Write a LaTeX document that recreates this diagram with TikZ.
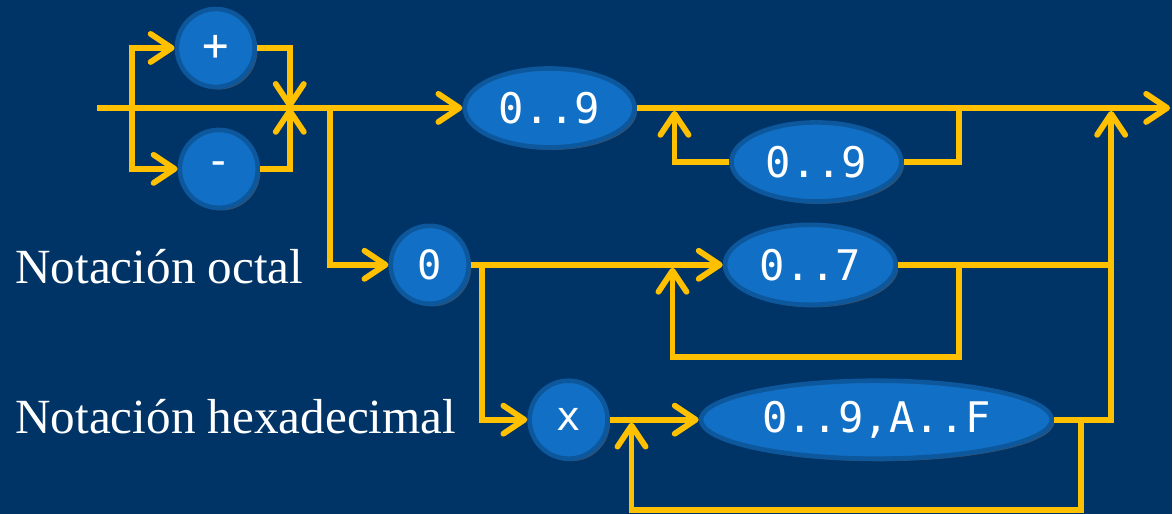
\documentclass[tikz,border=0pt]{standalone}
\usepackage{fontspec}
\setmainfont{Liberation Serif}
\setmonofont{DejaVu Sans Mono}
\usetikzlibrary{arrows.meta,shapes.geometric,shadows}
\definecolor{navy}{HTML}{003366}
\definecolor{rail}{HTML}{FFC000}
\definecolor{tokfill}{HTML}{1170C6}
\definecolor{tokedge}{HTML}{0D579C}

\begin{document}
\begin{tikzpicture}[>={Straight Barb[length=12pt,width=16pt,round]},
  flow/.style={draw=rail,line width=3.3pt},
  tok/.style={ellipse,fill=tokfill,draw=tokedge,line width=2.6pt,inner sep=0pt,text=white,
    font=\ttfamily\fontsize{24}{24}\selectfont,minimum width=3.4cm,minimum height=1.58cm,
    drop shadow={shadow xshift=1.5pt,shadow yshift=-1.5pt,opacity=0.4}},
  sgn/.style={tok,circle,minimum size=1.56cm,font=\ttfamily\fontsize{25}{25}\selectfont},
  lbl/.style={text=white,anchor=base west,inner sep=0pt,font=\fontsize{28}{30}\selectfont}]
  \fill[navy] (0,0) rectangle (23.46,-10.28);

  % tokens
  \node[sgn] (plus) at (4.32,-0.96) {+};
  \node[sgn] (minus) at (4.38,-3.38) {-};
  \node[sgn,font=\ttfamily\fontsize{23}{23}\selectfont] (oct0) at (8.6,-5.3) {0};
  \node[sgn,font=\ttfamily\fontsize{23}{23}\selectfont] (hx) at (11.38,-8.4) {x};
  \node[tok] (d9) at (11,-2.16) {0..9};
  \node[tok] (d9r) at (16.34,-3.24) {0..9};
  \node[tok,minimum width=3.42cm,minimum height=1.6cm] (o7) at (16.22,-5.3) {0..7};
  \node[tok,minimum width=7.02cm,minimum height=1.56cm] (hexd) at (17.54,-8.4) {0..9,A..F};

  \node[lbl] (loct) at (0.3,-5.68) {Notación octal};
  \node[lbl] (lhex) at (0.3,-8.68) {Notación hexadecimal};

  % junctions on the rails
  \coordinate (in) at (1.94,-2.16);
  \coordinate (split) at (2.64,-2.16);
  \coordinate (merge) at (5.8,-2.16);
  \coordinate (fork) at (6.6,-2.16);
  \coordinate (out) at (23.42,-2.16);
  \coordinate (hsplit) at (9.64,-5.3);
  \coordinate (coll) at (22.24,-2.22);
  \coordinate (l9a) at (19.2,-2.16);
  \coordinate (l9b) at (13.5,-2.22);
  \coordinate (l7a) at (19.2,-5.3);
  \coordinate (l7c) at (19.2,-7.14);
  \coordinate (l7b) at (13.46,-5.36);
  \coordinate (lxa) at (21.64,-8.4);
  \coordinate (lxc) at (21.64,-10.2);
  \coordinate (lxb) at (12.64,-8.46);

  % sign
  \draw[flow,->] (in) -- (d9.west);
  \foreach \s in {plus,minus}{
    \draw[flow,->] (split) |- (\s.west);
    \draw[flow,->] (\s.east) -| (merge);
  }

  % decimal
  \draw[flow,->] (d9.east) -- (out);
  \draw[flow] (l9a) |- (d9r.east);
  \draw[flow,->] (d9r.west) -| (l9b);

  % octal
  \draw[flow,->] (fork) |- (oct0.west);
  \draw[flow,->] (oct0.east) -- (o7.west);
  \draw[flow] (o7.east) -- (o7.east -| coll);
  \draw[flow,->] (l7a) -- (l7c) -| (l7b);

  % hexadecimal
  \draw[flow,->] (hsplit) |- (hx.west);
  \draw[flow,->] (hx.east) -- (hexd.west);
  \draw[flow,->] (hexd.east) -| (coll);
  \draw[flow,->] (lxa) -- (lxc) -| (lxb);
\end{tikzpicture}
\end{document}
